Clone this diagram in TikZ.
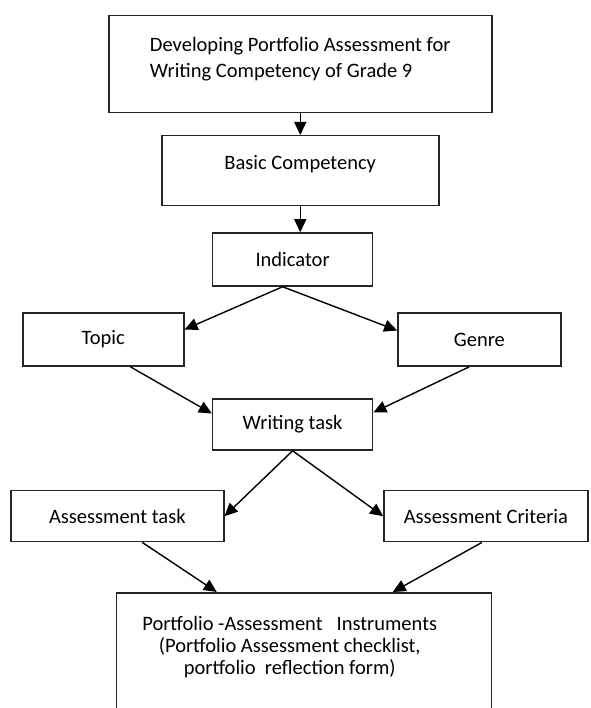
\documentclass[tikz,border=0pt]{standalone}
\usepackage{fontspec}
\setmainfont{Carlito}
\usetikzlibrary{arrows.meta}

\begin{document}
\begin{tikzpicture}[
  x=1pt, y=-1pt,
  box/.style={draw=black!85, line width=1.5pt, inner sep=0pt,
    font=\fontsize{20.5}{24}\selectfont},
  arr/.style={line width=1.4pt, -{Triangle[length=13pt,width=12pt]}}
]

  \useasboundingbox (0,0) rectangle (590,708);

  % Boxes
  \node[box, anchor=north west, minimum width=383pt, align=left,
        font=\fontsize{20.5}{26}\selectfont,
        text height=62pt, text depth=35pt] (dev) at (108,15)
        {Developing Portfolio Assessment for\\ Writing Competency of Grade 9};
  \node[box, anchor=north west, minimum width=277pt,
        text height=34pt, text depth=36pt] (basic) at (161,135) {Basic Competency};
  \node[box, minimum width=160pt, minimum height=53pt] (indic) at (292.6,259.5) {Indicator};
  \node[box, minimum width=161pt, minimum height=53pt] (topic) at (103.3,339.5) {Topic};
  \node[box, minimum width=163pt, minimum height=53pt] (genre) at (479.4,339.5) {Genre};
  \node[box, minimum width=160pt, minimum height=51pt] (write) at (292.6,424.5) {Writing task};
  \node[box, minimum width=213pt, minimum height=51pt] (atask) at (117.3,516.2) {Assessment task};
  \node[box, minimum width=204pt, minimum height=51pt] (crit) at (485.9,516.2) {Assessment Criteria};
  \node[box, anchor=north west, minimum width=375pt,
        font=\fontsize{20.5}{22}\selectfont,
        text height=82pt, text depth=38pt] (port) at (115.5,592)
        {\begin{tabular}[b]{@{}c@{}}
           Portfolio -Assessment~~~Instruments\\
           (Portfolio Assessment checklist,\\
           portfolio~~reflection form)
         \end{tabular}\hspace*{28pt}};

  % Arrows
  \draw[arr] (dev) -- (basic);
  \draw[arr] (basic.south) -- (basic.south |- indic.north);
  \draw[arr] ([xshift=-10pt]indic.south) -- ([yshift=10pt]topic.east);
  \draw[arr] ([xshift=-10pt]indic.south) -- ([yshift=9pt]genre.west);
  \draw[arr] ([xshift=27pt]topic.south) -- ([yshift=11pt]write.west);
  \draw[arr] ([xshift=-10pt]genre.south) -- ([yshift=12pt]write.east);
  \draw[arr] (write.south) -- (atask.east);
  \draw[arr] (write.south) -- (crit.west);
  \draw[arr] ([xshift=25pt]atask.south) -- ([xshift=-87pt]port.north);
  \draw[arr] ([xshift=-4pt]crit.south) -- ([xshift=89pt]port.north);

\end{tikzpicture}
\end{document}
